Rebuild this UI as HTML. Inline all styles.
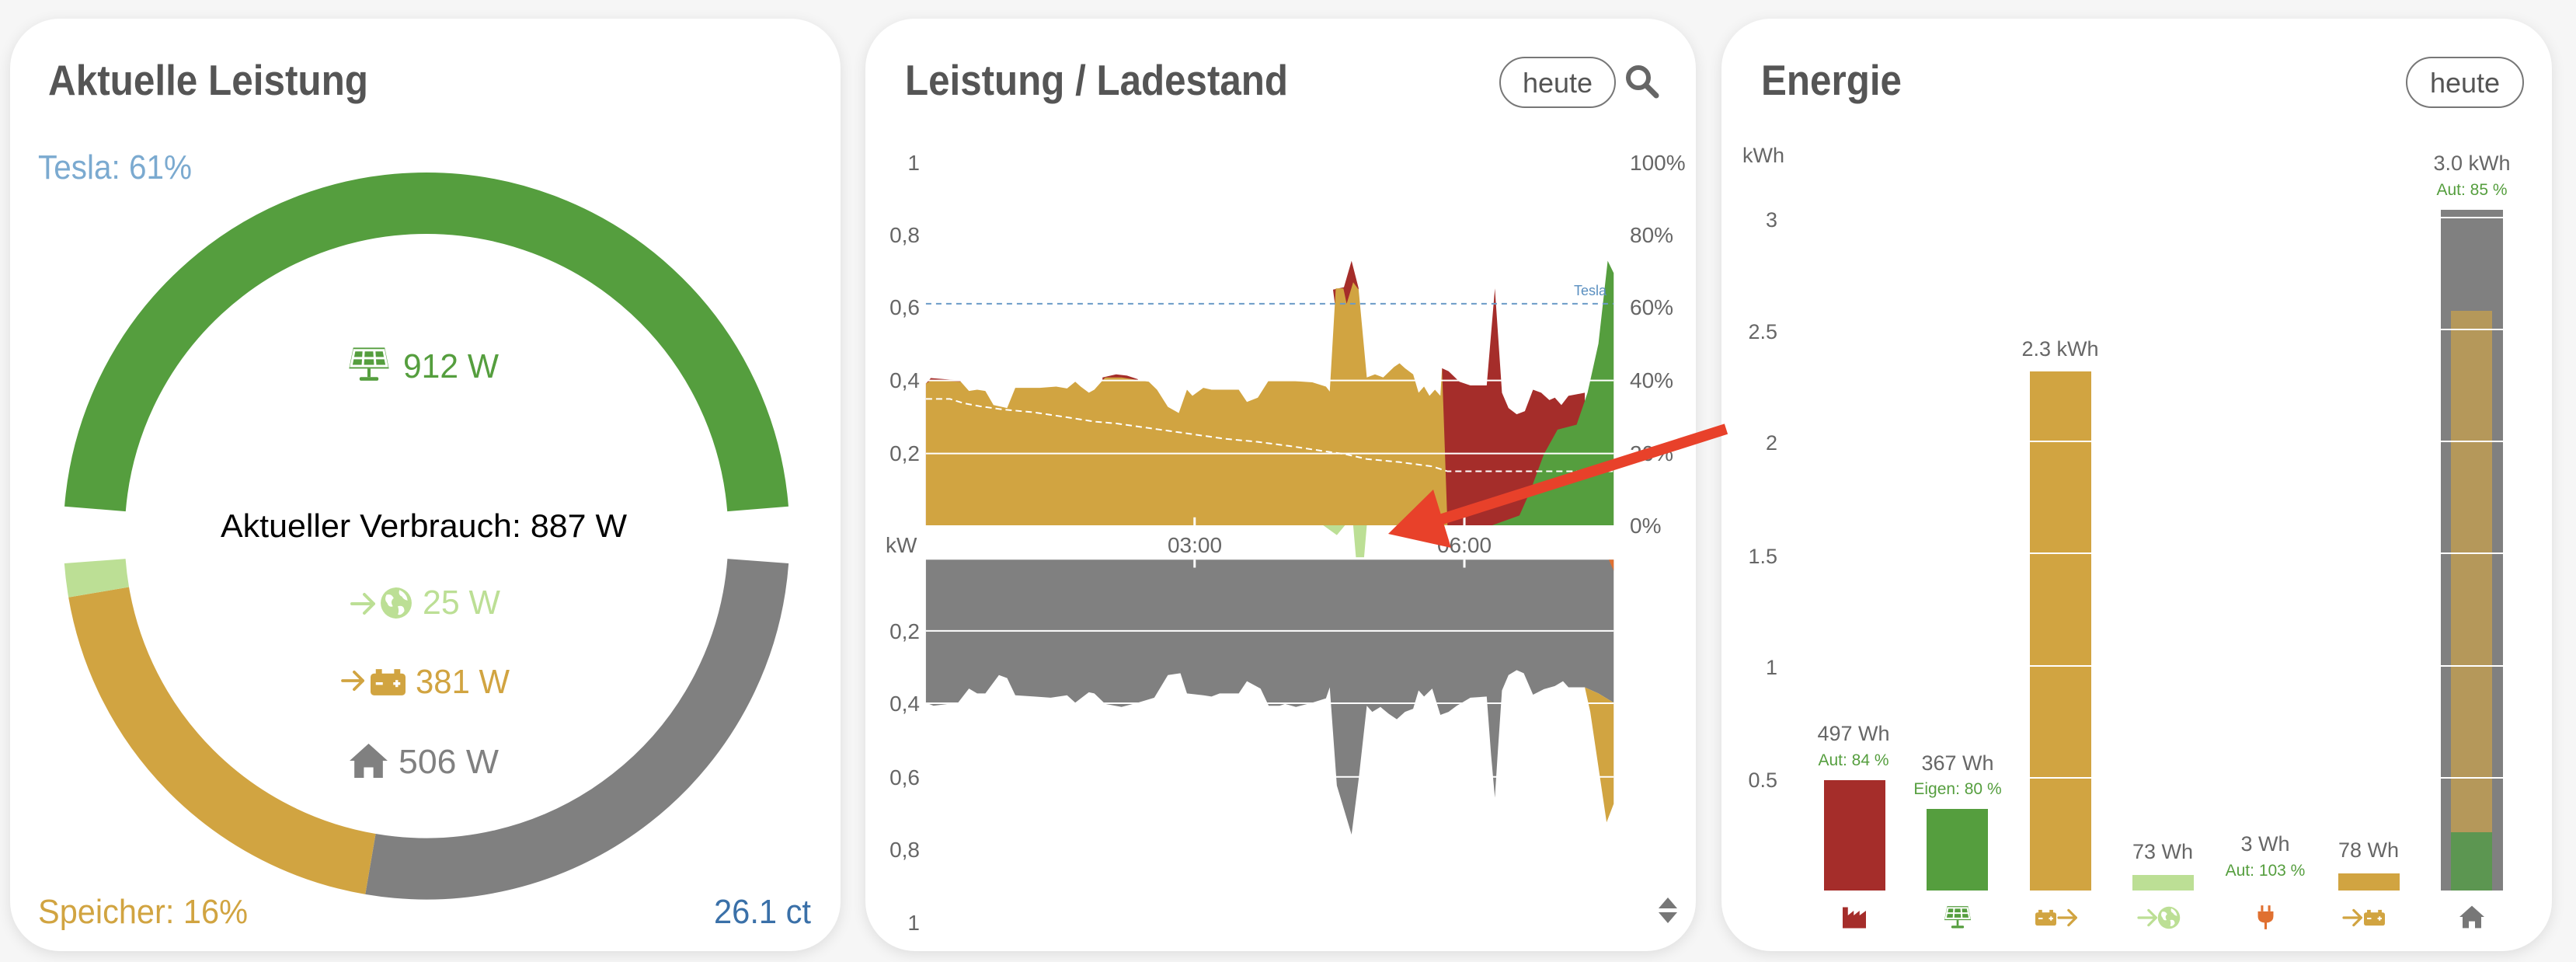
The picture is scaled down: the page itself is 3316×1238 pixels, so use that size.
<!DOCTYPE html>
<html><head><meta charset="utf-8">
<style>
html,body{margin:0;padding:0;background:#f6f6f6;}
body{width:3316px;height:1238px;position:relative;overflow:hidden;font-family:"Liberation Sans",sans-serif;}
.card{position:absolute;top:24px;width:1069px;height:1200px;background:#fff;border-radius:64px;box-shadow:0 4px 18px rgba(0,0,0,0.10);}
svg{position:absolute;left:0;top:0;}
</style></head>
<body>
<div class="card" style="left:13px"></div>
<div class="card" style="left:1114px"></div>
<div class="card" style="left:2216px"></div>
<svg width="3316" height="1238" viewBox="0 0 3316 1238" xmlns="http://www.w3.org/2000/svg" font-family="Liberation Sans, sans-serif">
<defs>
<symbol id="solar" viewBox="0 0 40 34">
 <polygon points="5,1 35,1 39,21 1,21" fill="currentColor"/>
 <g stroke="#fff" stroke-width="2.2" fill="none">
  <line x1="4" y1="11" x2="36" y2="11"/>
  <line x1="15" y1="3" x2="14" y2="19"/>
  <line x1="25" y1="3" x2="26" y2="19"/>
  <polygon points="6,3.5 34,3.5 37,18.5 3,18.5"/>
 </g>
 <rect x="18.5" y="21" width="3" height="8" fill="currentColor"/>
 <rect x="11" y="29" width="18" height="3.5" rx="1.5" fill="currentColor"/>
</symbol>
<symbol id="house" viewBox="0 0 40 36">
 <polygon points="20,0 40,18 35,18 35,36 25,36 25,25 15,25 15,36 5,36 5,18 0,18" fill="currentColor"/>
</symbol>
<symbol id="batt" viewBox="0 0 40 30">
 <rect x="0" y="5" width="40" height="25" rx="4" fill="currentColor"/>
 <rect x="6" y="0" width="7" height="6" fill="currentColor"/>
 <rect x="27" y="0" width="7" height="6" fill="currentColor"/>
 <rect x="6" y="15" width="8" height="3" fill="#fff"/>
 <rect x="26" y="15" width="8" height="3" fill="#fff"/>
 <rect x="28.5" y="12.5" width="3" height="8" fill="#fff"/>
</symbol>
<symbol id="arr" viewBox="0 0 34 30">
 <path d="M2,15 H30 M18,3 L30,15 L18,27" stroke="currentColor" stroke-width="4" fill="none" stroke-linecap="round" stroke-linejoin="round"/>
</symbol>
<symbol id="globe" viewBox="0 0 40 40">
 <circle cx="20" cy="20" r="19" fill="currentColor"/>
 <path d="M8,10 Q14,8 17,14 Q12,18 16,24 Q11,26 9,20 Q5,16 8,10 Z M24,4 Q33,8 34,17 Q29,16 27,12 Q22,10 24,4 Z M22,24 Q30,22 30,30 Q26,36 22,34 Q24,30 22,24 Z" fill="#fff"/>
</symbol>
<symbol id="factory" viewBox="0 0 40 36">
 <path d="M0,36 V0 H9 V14 L19,6 V14 L29,6 V14 L40,6 V36 Z" fill="currentColor"/>
</symbol>
<symbol id="plug" viewBox="0 0 30 40">
 <rect x="7" y="0" width="4" height="10" fill="currentColor"/>
 <rect x="19" y="0" width="4" height="10" fill="currentColor"/>
 <path d="M2,10 H28 V18 Q28,28 17,29 V40 H13 V29 Q2,28 2,18 Z" fill="currentColor"/>
</symbol>
</defs>

<!-- ============ CARD 1 ============ -->
<text x="62" y="122" font-size="55" font-weight="bold" fill="#555" textLength="412" lengthAdjust="spacingAndGlyphs">Aktuelle Leistung</text>
<text x="49" y="230" font-size="44" fill="#7baad0" textLength="198" lengthAdjust="spacingAndGlyphs">Tesla: 61%</text>
<g fill="none" stroke-width="79">
 <path d="M122.4,654.9 A428,428 0 0 1 975.6,654.9" stroke="#559e3e"/>
 <path d="M975.8,722.1 A428,428 0 0 1 476.9,1111.9" stroke="#808080"/>
 <path d="M476.9,1111.9 A428,428 0 0 1 127.1,762.1" stroke="#d1a441"/>
 <path d="M127.1,762.1 A428,428 0 0 1 122.2,722.1" stroke="#bcdf95"/>
</g>
<use href="#solar" x="448" y="444" width="54" height="50" color="#559e3e"/>
<text x="519" y="486" font-size="44" fill="#559e3e" textLength="123" lengthAdjust="spacingAndGlyphs">912 W</text>
<text x="284" y="691" font-size="42" fill="#000" textLength="523" lengthAdjust="spacingAndGlyphs">Aktueller Verbrauch: 887 W</text>
<use href="#arr" x="447" y="762" width="42" height="30" color="#bcdf95"/>
<use href="#globe" x="489" y="755" width="42" height="42" color="#bcdf95"/>
<text x="544" y="790" font-size="44" fill="#bcdf95" textLength="100" lengthAdjust="spacingAndGlyphs">25 W</text>
<use href="#arr" x="435" y="862" width="40" height="28" color="#d1a441"/>
<use href="#batt" x="477" y="861" width="45" height="34" color="#d1a441"/>
<text x="535" y="892" font-size="44" fill="#d1a441" textLength="121" lengthAdjust="spacingAndGlyphs">381 W</text>
<use href="#house" x="449" y="957" width="51" height="44" color="#808080"/>
<text x="513" y="995" font-size="44" fill="#808080" textLength="129" lengthAdjust="spacingAndGlyphs">506 W</text>
<text x="49" y="1188" font-size="44" fill="#d1a441" textLength="270" lengthAdjust="spacingAndGlyphs">Speicher: 16%</text>
<text x="919" y="1188" font-size="44" fill="#3a70a8" textLength="125" lengthAdjust="spacingAndGlyphs">26.1 ct</text>

<!-- ============ CARD 2 ============ -->
<text x="1165" y="122" font-size="55" font-weight="bold" fill="#555" textLength="493" lengthAdjust="spacingAndGlyphs">Leistung / Ladestand</text>
<rect x="1931" y="74" width="148" height="64" rx="32" fill="#fff" stroke="#777" stroke-width="2"/>
<text x="2005" y="119" font-size="36" fill="#555" text-anchor="middle">heute</text>
<circle cx="2109" cy="100" r="13" fill="none" stroke="#666" stroke-width="6"/>
<line x1="2119" y1="110" x2="2132" y2="123" stroke="#666" stroke-width="7" stroke-linecap="round"/>

<g font-size="28" fill="#666">
 <text x="1184" y="219" text-anchor="end">1</text>
 <text x="1184" y="312" text-anchor="end">0,8</text>
 <text x="1184" y="405" text-anchor="end">0,6</text>
 <text x="1184" y="499" text-anchor="end">0,4</text>
 <text x="1184" y="593" text-anchor="end">0,2</text>
 <text x="2098" y="219">100%</text>
 <text x="2098" y="312">80%</text>
 <text x="2098" y="405">60%</text>
 <text x="2098" y="499">40%</text>
 <text x="2098" y="593">20%</text>
 <text x="2098" y="686">0%</text>
 <text x="1140" y="711">kW</text>
 <text x="1538" y="711" text-anchor="middle">03:00</text>
 <text x="1885" y="711" text-anchor="middle">06:00</text>
 <text x="1184" y="822" text-anchor="end">0,2</text>
 <text x="1184" y="915" text-anchor="end">0,4</text>
 <text x="1184" y="1010" text-anchor="end">0,6</text>
 <text x="1184" y="1103" text-anchor="end">0,8</text>
 <text x="1184" y="1197" text-anchor="end">1</text>
</g>

<g transform="translate(1100,0) scale(0.70155,0.78974)">
 <!-- top chart -->
 <polygon fill="#bcdf95" points="860,856 885,872 900,856 915,856 920,908 935,908 940,856"/>
 <polygon fill="#a52d2a" points="131,625 140,616 195,620 131,856"/>
 <polygon fill="#a52d2a" points="455,615 480,610 500,612 520,618 520,640 455,640"/>
 <polygon fill="#a52d2a" points="878,472 898,468 912,425 925,470 915,520 885,520"/>
 <polygon fill="#a52d2a" points="1078,600 1090,605 1110,622 1130,628 1160,628 1175,470 1188,640 1200,665 1215,675 1230,670 1245,635 1260,640 1275,652 1285,648 1297,660 1310,645 1340,640 1340,856 1078,856"/>
 <polygon fill="#d1a441" points="131,625 140,620 195,622 210,637 225,635 240,637 255,660 280,665 295,632 340,632 370,630 390,633 405,622 415,630 430,640 440,635 460,615 490,615 510,618 540,622 555,635 575,663 595,673 610,635 620,645 640,632 655,635 705,635 720,655 740,648 760,620 790,620 840,623 865,630 872,638 883,470 897,470 903,495 915,460 925,472 940,615 955,610 970,615 990,598 1000,592 1010,600 1025,610 1035,640 1045,630 1055,645 1065,635 1075,645 1078,600 1088,856 131,856"/>
 <polygon fill="#559e3e" points="1170,856 1220,840 1240,800 1265,740 1290,700 1325,692 1345,640 1365,560 1382,425 1393,445 1393,856"/>
 <g stroke="#fff" stroke-width="2">
  <line x1="131" y1="620" x2="1393" y2="620" vector-effect="non-scaling-stroke"/>
  <line x1="131" y1="739" x2="1393" y2="739" vector-effect="non-scaling-stroke"/>
 </g>
 <polyline fill="none" stroke="#fff" stroke-width="2" stroke-dasharray="8,5" vector-effect="non-scaling-stroke" points="131,650 175,650 200,657 230,662 270,667 330,672 390,680 440,687 480,690 560,700 600,705 640,710 680,715 740,720 800,727 860,735 900,740 940,748 1000,753 1060,760 1088,768 1393,768"/>
 <line x1="131" y1="495" x2="1393" y2="495" stroke="#6b9bc7" stroke-width="2" stroke-dasharray="7,6" vector-effect="non-scaling-stroke"/>
 <g stroke="#fff" stroke-width="3">
  <line x1="624" y1="843" x2="624" y2="856" vector-effect="non-scaling-stroke"/>
  <line x1="1119" y1="843" x2="1119" y2="856" vector-effect="non-scaling-stroke"/>
 </g>
 <!-- bottom chart -->
 <polygon fill="#808080" points="131,912 131,1145 145,1150 190,1145 210,1122 225,1130 240,1130 265,1100 280,1105 295,1133 330,1135 360,1137 390,1133 405,1145 430,1128 440,1130 460,1147 490,1152 520,1145 550,1137 575,1100 598,1097 610,1130 640,1133 655,1135 670,1130 705,1130 720,1110 745,1122 760,1150 780,1150 790,1147 810,1152 840,1145 865,1138 872,1120 885,1280 912,1360 925,1270 940,1150 950,1160 965,1152 980,1163 995,1172 1010,1160 1025,1155 1035,1125 1045,1135 1060,1122 1075,1165 1090,1160 1105,1150 1130,1137 1160,1135 1168,1230 1175,1300 1180,1230 1188,1125 1200,1100 1215,1092 1228,1097 1245,1132 1265,1123 1285,1118 1300,1110 1310,1120 1340,1120 1365,1130 1393,1145 1393,912"/>
 <polygon fill="#d1a441" points="1340,1120 1365,1130 1393,1145 1393,1310 1380,1340 1365,1250 1350,1160"/>
 <polygon fill="#e07030" points="1384,912 1393,912 1393,930"/>
 <g stroke="#fff" stroke-width="2">
  <line x1="131" y1="1028" x2="1393" y2="1028" vector-effect="non-scaling-stroke"/>
  <line x1="131" y1="1146" x2="1393" y2="1146" vector-effect="non-scaling-stroke"/>
  <line x1="131" y1="1266" x2="1393" y2="1266" vector-effect="non-scaling-stroke"/>
  <line x1="624" y1="912" x2="624" y2="925" stroke-width="3" vector-effect="non-scaling-stroke"/>
  <line x1="1119" y1="912" x2="1119" y2="925" stroke-width="3" vector-effect="non-scaling-stroke"/>
 </g>
</g>
<text x="2026" y="380" font-size="18" fill="#5a8fc0">Tesla</text>
<polygon points="2135,1169 2147,1155 2159,1169" fill="#777"/>
<polygon points="2135,1174 2147,1188 2159,1174" fill="#777"/>

<!-- red arrow -->
<line x1="1850" y1="670" x2="2222" y2="552" stroke="#e8412a" stroke-width="14"/>
<polygon points="1787,687 1845,630 1868,705" fill="#e8412a"/>

<!-- ============ CARD 3 ============ -->
<text x="2267" y="122" font-size="55" font-weight="bold" fill="#555" textLength="181" lengthAdjust="spacingAndGlyphs">Energie</text>
<rect x="3098" y="74" width="150" height="64" rx="32" fill="#fff" stroke="#777" stroke-width="2"/>
<text x="3173" y="119" font-size="36" fill="#555" text-anchor="middle">heute</text>
<g font-size="27" fill="#666">
 <text x="2243" y="209">kWh</text>
 <text x="2288" y="292" text-anchor="end">3</text>
 <text x="2288" y="436" text-anchor="end">2.5</text>
 <text x="2288" y="579" text-anchor="end">2</text>
 <text x="2288" y="725" text-anchor="end">1.5</text>
 <text x="2288" y="868" text-anchor="end">1</text>
 <text x="2288" y="1013" text-anchor="end">0.5</text>
</g>
<rect x="2348" y="1004" width="79" height="142" fill="#a52d2a"/>
<rect x="2480" y="1041" width="79" height="105" fill="#559e3e"/>
<rect x="2613" y="478" width="79" height="668" fill="#d1a441"/>
<rect x="2745" y="1126" width="79" height="20" fill="#bcdf95"/>
<rect x="3010" y="1124" width="79" height="22" fill="#d1a441"/>
<rect x="3142" y="270" width="80" height="876" fill="#808080"/>
<rect x="3155" y="400" width="53" height="671" fill="#b5985a"/>
<rect x="3155" y="1071" width="53" height="75" fill="#5c9651"/>
<g stroke="#fff" stroke-width="2">
 <line x1="2300" y1="280" x2="3240" y2="280"/>
 <line x1="2300" y1="424" x2="3240" y2="424"/>
 <line x1="2300" y1="568" x2="3240" y2="568"/>
 <line x1="2300" y1="712" x2="3240" y2="712"/>
 <line x1="2300" y1="857" x2="3240" y2="857"/>
 <line x1="2300" y1="1001" x2="3240" y2="1001"/>
</g>
<g font-size="27" fill="#666" text-anchor="middle">
 <text x="2386" y="953">497 Wh</text>
 <text x="2520" y="991">367 Wh</text>
 <text x="2652" y="458">2.3 kWh</text>
 <text x="2784" y="1105">73 Wh</text>
 <text x="2916" y="1095">3 Wh</text>
 <text x="3049" y="1103">78 Wh</text>
 <text x="3182" y="219">3.0 kWh</text>
</g>
<g font-size="21" fill="#559e3e" text-anchor="middle">
 <text x="2386" y="985">Aut: 84 %</text>
 <text x="2520" y="1022">Eigen: 80 %</text>
 <text x="2916" y="1127">Aut: 103 %</text>
 <text x="3182" y="251">Aut: 85 %</text>
</g>
<use href="#factory" x="2372" y="1166" width="30" height="30" color="#a52d2a"/>
<use href="#solar" x="2502" y="1164" width="36" height="33" color="#559e3e"/>
<use href="#batt" x="2620" y="1169" width="27" height="24" color="#d1a441"/>
<use href="#arr" x="2648" y="1169" width="28" height="24" color="#d1a441"/>
<use href="#arr" x="2751" y="1169" width="28" height="24" color="#bcdf95"/>
<use href="#globe" x="2777" y="1166" width="30" height="30" color="#bcdf95"/>
<use href="#plug" x="2905" y="1164" width="23" height="33" color="#e07030"/>
<use href="#arr" x="3015" y="1169" width="28" height="24" color="#d1a441"/>
<use href="#batt" x="3043" y="1169" width="27" height="24" color="#d1a441"/>
<use href="#house" x="3166" y="1165" width="32" height="30" color="#777"/>
</svg>
</body></html>
